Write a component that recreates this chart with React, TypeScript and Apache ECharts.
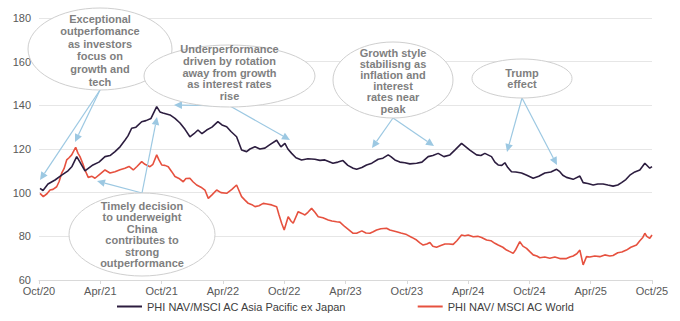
import React, { useEffect, useRef } from "react";
import * as echarts from "echarts";

// x positions are months since Oct 2020 (0 = Oct/20, 60 = Oct/25)
const xTickLabels = ["Oct/20", "Apr/21", "Oct/21", "Apr/22", "Oct/22", "Apr/23", "Oct/23", "Apr/24", "Oct/24", "Apr/25", "Oct/25"];
const yTicks = [60, 80, 100, 120, 140, 160, 180];

const seriesNames = ["PHI NAV/MSCI AC Asia Pacific ex Japan", "PHI NAV/ MSCI AC World"];

const apacMonths = [
  0.1, 0.39, 0.88, 1.57, 2.22, 2.84, 3.23, 3.69, 4.01, 4.5, 4.79, 5.28, 5.87, 6.46, 6.95, 7.44, 7.93, 8.41, 8.71, 9.07,
  9.49, 10.05, 10.47, 10.96, 11.52, 11.84, 12.13, 12.82, 13.31, 13.8, 14.29, 14.77, 15.17, 15.56, 15.95, 16.41, 16.93,
  17.51, 17.91, 18.37, 18.79, 19.34, 19.83, 20.32, 20.65, 21.14, 21.62, 22.11, 22.6, 23.26, 23.68, 24.07, 24.36, 24.73,
  25.15, 25.7, 26.32, 27.0, 27.5, 27.98, 28.77, 29.26, 29.75, 30.23, 30.75, 31.09, 31.6, 32.06, 32.58, 33.2, 33.66,
  34.18, 34.44, 34.83, 35.32, 35.81, 36.3, 36.96, 37.48, 38.09, 38.55, 39.07, 39.63, 40.22, 40.7, 41.36, 41.78, 42.17,
  42.83, 43.25, 43.64, 44.29, 44.62, 44.94, 45.3, 45.6, 45.89, 46.25, 46.67, 47.23, 47.75, 48.37, 48.92, 49.51, 50.1,
  50.66, 50.98, 51.27, 51.63, 52.28, 52.94, 53.26, 53.72, 54.24, 54.7, 55.21, 55.68, 56.19, 56.65, 57.02, 57.44, 57.83,
  58.32, 58.81, 59.3, 59.78, 60.0,
];
const apacValues = [
  102, 101, 104, 105.8, 108, 110, 112, 116.5, 114, 110, 111, 112.7, 114, 116.5, 117, 118.8, 121, 124, 126, 129.5,
  130, 132.5, 133, 134, 139.4, 137, 136.5, 135.6, 134, 131.9, 129, 125.6, 127, 128.7, 127, 128.7, 130,
  132.5, 131, 130.2, 128, 125.6, 119.5, 118.8, 120, 121, 120, 120.4, 122, 124, 121, 122.6, 120, 118,
  116, 115, 115.5, 115.3, 114.8, 115, 113.5, 114, 114.7, 112.5, 111.2, 110.7, 111.5, 112.7, 113.5, 115.3, 115.8,
  117.3, 116.5, 115, 114, 113.7, 113.2, 113.5, 114, 116.5, 117, 118, 116.5, 117.3, 119.5, 122.6, 121, 119.5,
  117.3, 117, 118, 116.5, 114, 112.7, 112.5, 113.7, 111.5, 109.6, 109.5, 109, 108, 106.6, 107.5, 109, 109.5,
  110.7, 109.6, 108, 107, 106.1, 107.6, 104.6, 104.2, 103.5, 104, 104, 103.5, 103, 103.5, 104.6, 106, 108,
  109.5, 110.4, 113.5, 111.2, 111.9,
];

const worldMonths = [
  0.1, 0.42, 0.78, 1.08, 1.37, 1.73, 1.96, 2.22, 2.45, 2.71, 2.94, 3.2, 3.59, 3.82, 4.01, 4.31, 4.5, 4.82, 5.19, 5.48,
  5.97, 6.46, 6.95, 7.44, 7.93, 8.41, 8.81, 9.23, 9.59, 10.05, 10.37, 10.86, 11.15, 11.52, 11.74, 12.01, 12.33, 12.65,
  13.01, 13.31, 13.7, 14.12, 14.38, 14.77, 15.07, 15.43, 15.85, 16.24, 16.57, 16.93, 17.39, 17.81, 18.37, 18.88, 19.34,
  19.57, 19.83, 20.16, 20.48, 20.84, 21.14, 21.53, 21.95, 22.31, 22.77, 23.26, 23.48, 23.75, 24.0, 24.39, 24.66, 24.88,
  25.37, 25.73, 26.03, 26.32, 26.68, 27.01, 27.33, 27.79, 28.31, 28.67, 29.13, 29.45, 29.94, 30.33, 30.75, 31.09, 31.6,
  32.0, 32.39, 32.71, 33.04, 33.46, 34.02, 34.34, 35.0, 35.42, 35.98, 36.5, 36.96, 37.28, 37.6, 37.96, 38.26, 38.55,
  38.91, 39.33, 39.73, 40.12, 40.54, 40.9, 41.36, 41.68, 42.01, 42.5, 42.95, 43.32, 43.81, 44.23, 44.62, 44.94, 45.4,
  45.76, 46.09, 46.41, 46.67, 47.06, 47.36, 47.72, 48.04, 48.37, 48.73, 49.02, 49.51, 50.0, 50.49, 50.98, 51.63, 51.96,
  52.28, 52.64, 52.94, 53.26, 53.59, 53.91, 54.4, 54.89, 55.38, 55.87, 56.19, 56.65, 57.05, 57.5, 57.93, 58.48, 58.81,
  59.1, 59.3, 59.49, 59.78, 60.0,
];
const worldValues = [
  99.7, 98.2, 99.5, 101.2, 101.5, 102.7, 105, 108.9, 111, 115, 116, 117.3, 120.8, 118, 116.5, 113, 110.4, 107, 107.5, 106.6,
  108.5, 110.4, 109, 109.6, 110.5, 111.2, 112, 110.4, 112, 114.2, 113, 111.9, 113, 117.3, 115, 112.7, 112.5, 111.9,
  109.5, 107.4, 106.5, 105, 106.5, 106.6, 105, 103.5, 102.5, 101.2, 97.4, 99, 101.2, 100, 99.7, 101.5, 103.5,
  101, 98.2, 96.6, 95.1, 94.5, 93.6, 94, 95.1, 94.8, 94.4, 93.6, 90, 86, 82.9, 89, 87, 86,
  91.3, 90.5, 89.8, 91, 92.8, 91, 89, 88.5, 87.5, 87, 86.7, 86.5, 84.4, 83, 81.4, 81.4, 82.5,
  81.5, 81.4, 82.1, 82.9, 83.5, 83.7, 82.9, 82.1, 81.5, 80.8, 79.5, 78.3, 77, 76, 76.5, 77.2, 75.5,
  75, 75.8, 76.5, 76.5, 76.3, 78, 80.6, 80.3, 80.6, 79.8, 80, 79.5, 78.3, 78, 76.8, 76, 75,
  73.7, 73, 72.2, 74, 77.6, 75.5, 74.5, 73, 71.5, 71, 70.2, 70.5, 70, 70.5, 69.8, 69.8, 70.5,
  71, 72, 73.7, 66.9, 70.7, 70.5, 71, 70.7, 71.5, 71, 71.2, 72.5, 72.8, 73.7, 75, 76, 78,
  79.5, 81.4, 80, 79.1, 80.6,
];

const annotationTexts = [
  "Exceptional\noutperfomance\nas investors\nfocus on\ngrowth and\ntech",
  "Underperformance\ndriven by rotation\naway from growth\nas interest rates\nrise",
  "Growth style\nstabilisng as\ninflation and\ninterest\nrates near\npeak",
  "Trump\neffect",
  "Timely decision\nto underweight\nChina\ncontributes to\nstrong\noutperformance",
];

const ARROW = "#9cc8e2";
const BUBBLE_TEXT = "#7f7f7f";

function arrow(x1: number, y1: number, x2: number, y2: number) {
  const dx = x2 - x1;
  const dy = y2 - y1;
  const len = Math.sqrt(dx * dx + dy * dy);
  const ux = dx / len;
  const uy = dy / len;
  const hl = 8;
  const hw = 3.8;
  const bx = x2 - ux * hl;
  const by = y2 - uy * hl;
  return [
    { type: "line", z: 20, shape: { x1, y1, x2: bx, y2: by }, style: { stroke: ARROW, lineWidth: 1.2 } },
    {
      type: "polygon",
      z: 20,
      shape: { points: [[x2, y2], [bx - uy * hw, by + ux * hw], [bx + uy * hw, by - ux * hw]] },
      style: { fill: ARROW },
    },
  ];
}

function bubble(cx: number, cy: number, rx: number, ry: number, text: string, ty: number, lh: number) {
  return [
    {
      type: "ellipse",
      z: 30,
      shape: { cx, cy, rx, ry },
      style: { fill: "#ffffff", stroke: "#cfcfcf", lineWidth: 1 },
    },
    {
      type: "text",
      z: 31,
      x: cx,
      y: ty,
      style: {
        text,
        fill: BUBBLE_TEXT,
        font: "bold 11px 'Liberation Sans', Arial, sans-serif",
        lineHeight: lh,
        align: "center",
        verticalAlign: "middle",
      },
    },
  ];
}

export default function App() {
  const ref = useRef<HTMLDivElement>(null);
  useEffect(() => {
    if (!ref.current) return;
    const chart = echarts.init(ref.current, null, { renderer: "svg" });
    const apac = apacMonths.map((m, i) => [m, apacValues[i]]);
    const world = worldMonths.map((m, i) => [m, worldValues[i]]);
    const graphics: any[] = [
      ...arrow(100, 90, 75, 142),
      ...arrow(100, 90, 40, 180),
      ...arrow(230, 106, 174, 105),
      ...arrow(230, 106, 290, 140),
      ...arrow(142, 193, 97, 181),
      ...arrow(142, 193, 157, 117),
      ...arrow(393, 118, 372, 148),
      ...arrow(393, 118, 434, 146),
      ...arrow(522, 98, 507, 152),
      ...arrow(522, 98, 557, 165),
      ...bubble(100, 49, 72, 41, annotationTexts[0], 50, 12.6),
      ...bubble(229.5, 76, 85.5, 31, annotationTexts[1], 72.5, 11.6),
      ...bubble(393, 80, 60, 38, annotationTexts[2], 80.5, 11.2),
      ...bubble(522, 78.5, 50, 19.5, annotationTexts[3], 78.5, 11.5),
      ...bubble(142, 234.5, 73, 41.5, annotationTexts[4], 234.5, 11.4),
    ];
    chart.setOption({
      animation: false,
      textStyle: { fontFamily: "'Liberation Sans', Arial, sans-serif" },
      grid: { left: 39, right: 28, top: 18, bottom: 41 },
      legend: {
        data: seriesNames,
        bottom: 4,
        left: 112,
        itemGap: 71,
        itemWidth: 25,
        itemHeight: 2,
        icon: "rect",
        textStyle: { fontSize: 11, color: "#404040", padding: [0, 0, 0, 0] },
      },
      xAxis: {
        type: "value",
        min: 0,
        max: 60,
        interval: 6,
        axisLine: { lineStyle: { color: "#d9d9d9" } },
        axisTick: { show: true, length: 4, lineStyle: { color: "#d9d9d9" } },
        splitLine: { show: false },
        axisLabel: {
          color: "#595959",
          fontSize: 11,
          margin: 5,
          formatter: (v: number) => xTickLabels[Math.round(v / 6)] ?? "",
        },
      },
      yAxis: {
        type: "value",
        min: yTicks[0],
        max: yTicks[yTicks.length - 1],
        interval: 20,
        axisLine: { show: false },
        axisTick: { show: false },
        splitLine: { lineStyle: { color: "#e6e6e6" } },
        axisLabel: { color: "#595959", fontSize: 11, margin: 8 },
      },
      series: [
        {
          name: seriesNames[0],
          type: "line",
          data: apac,
          showSymbol: false,
          color: "#2c1d3f",
          lineStyle: { width: 1.6, color: "#2c1d3f" },
          z: 3,
        },
        {
          name: seriesNames[1],
          type: "line",
          data: world,
          showSymbol: false,
          color: "#e6513f",
          lineStyle: { width: 1.6, color: "#e6513f" },
          z: 2,
        },
      ],
      graphic: graphics,
    });
    return () => chart.dispose();
  }, []);
  return <div ref={ref} style={{ width: 680, height: 321, position: "absolute", left: 0, top: 0 }} />;
}
